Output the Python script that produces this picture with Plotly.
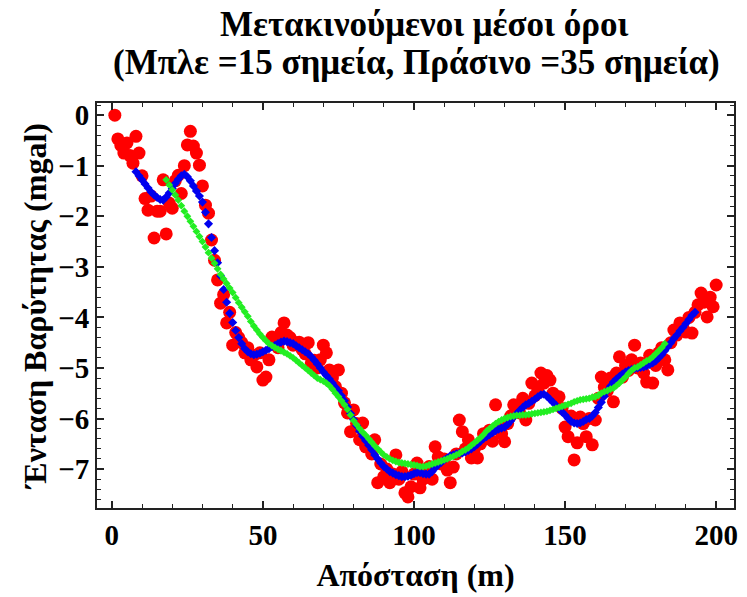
import plotly.graph_objects as go

# Raw gravity measurements (red points), x = 1..200 m
distance = list(range(1, 201))
gravity = [
    0.0, -0.47, -0.6, -0.75, -0.55, -0.8, -0.95, -0.42, -0.75, -1.2,
    -1.65, -1.88, -1.6, -2.43, -1.9, -1.9, -1.28, -2.35, -1.74, -1.84,
    -1.3, -1.19, -1.55, -1.0, -0.59, -0.32, -0.61, -0.75, -0.99, -1.4,
    -1.78, -1.94, -2.47, -2.87, -3.26, -3.72, -3.55, -4.11, -3.9, -4.55,
    -4.3, -4.4, -4.5, -4.7, -4.6, -4.84, -4.75, -4.98, -4.7, -5.24,
    -5.18, -4.84, -4.39, -4.45, -4.6, -4.3, -4.11, -4.35, -4.4, -4.55,
    -4.5, -4.49, -4.64, -4.72, -4.5, -4.9, -4.85, -5.0, -4.84, -4.55,
    -4.7, -5.04, -5.2, -5.37, -5.04, -5.5, -5.69, -5.89, -6.26, -5.83,
    -6.1, -6.42, -6.09, -6.56, -6.5, -6.7, -6.42, -7.27, -6.9, -7.15,
    -7.0, -7.27, -7.1, -6.72, -7.2, -7.05, -7.47, -7.55, -7.35, -7.1,
    -6.88, -7.37, -7.2, -7.05, -6.95, -7.2, -6.56, -6.76, -6.9, -6.8,
    -7.02, -7.27, -6.96, -6.7, -6.03, -6.26, -6.6, -6.42, -6.78, -6.6,
    -6.78, -6.5, -6.3, -6.4, -6.23, -6.45, -5.73, -6.17, -6.3, -6.46,
    -6.1, -5.95, -5.73, -5.8, -5.89, -5.6, -6.03, -5.7, -5.3, -5.55,
    -5.43, -5.1, -5.3, -5.15, -5.24, -5.5, -5.63, -5.57, -5.8, -6.17,
    -6.36, -5.95, -6.82, -6.48, -5.97, -6.1, -6.36, -6.0, -6.52, -6.03,
    -5.6, -5.18, -5.38, -5.45, -5.2, -5.67, -5.1, -4.78, -5.18, -4.95,
    -5.05, -4.84, -4.55, -5.0, -4.9, -5.1, -5.28, -4.75, -5.3, -4.95,
    -4.7, -4.6, -4.84, -5.04, -4.5, -4.25, -4.35, -4.11, -4.2, -4.29,
    -4.0, -4.31, -3.9, -3.75, -3.52, -3.7, -3.99, -3.6, -3.79, -3.36,
]

# 15-point moving average (blue), x = 8..193
blue_x = list(range(8, 194))
blue_y = [
    -1.12, -1.2, -1.28, -1.36, -1.44, -1.52, -1.58, -1.63, -1.67, -1.68,
    -1.62, -1.54, -1.45, -1.35, -1.27, -1.2, -1.17, -1.22, -1.3, -1.4,
    -1.5, -1.6, -1.72, -1.92, -2.15, -2.42, -2.68, -2.92, -3.18, -3.45,
    -3.7, -3.92, -4.1, -4.26, -4.4, -4.52, -4.62, -4.68, -4.72, -4.74,
    -4.73, -4.71, -4.68, -4.65, -4.62, -4.58, -4.55, -4.52, -4.49, -4.47,
    -4.48, -4.5, -4.52, -4.56, -4.6, -4.64, -4.68, -4.72, -4.78, -4.85,
    -4.92, -5.0, -5.08, -5.15, -5.22, -5.3, -5.38, -5.45, -5.55, -5.65,
    -5.77, -5.9, -6.02, -6.14, -6.25, -6.35, -6.44, -6.53, -6.62, -6.72,
    -6.8, -6.88, -6.95, -7.0, -7.05, -7.08, -7.11, -7.13, -7.15, -7.15,
    -7.14, -7.12, -7.09, -7.07, -7.07, -7.09, -7.1, -7.1, -7.05, -6.98,
    -6.92, -6.87, -6.82, -6.78, -6.74, -6.72, -6.7, -6.69, -6.68, -6.66,
    -6.63, -6.6, -6.56, -6.51, -6.45, -6.4, -6.36, -6.32, -6.28, -6.24,
    -6.21, -6.19, -6.17, -6.12, -6.05, -5.97, -5.9, -5.84, -5.78, -5.73,
    -5.7, -5.66, -5.62, -5.57, -5.53, -5.52, -5.56, -5.62, -5.68, -5.74,
    -5.8, -5.87, -5.93, -6.0, -6.06, -6.09, -6.1, -6.09, -6.06, -6.02,
    -6.0, -5.95, -5.88, -5.78, -5.68, -5.56, -5.45, -5.36, -5.28, -5.22,
    -5.17, -5.12, -5.08, -5.05, -5.03, -5.01, -5.0, -4.99, -4.98, -4.96,
    -4.93, -4.9, -4.86, -4.8, -4.74, -4.66, -4.58, -4.5, -4.42, -4.35,
    -4.27, -4.2, -4.12, -4.04, -3.96, -3.9,
]

# 35-point moving average (green), x = 18..183
green_x = list(range(18, 184))
green_y = [
    -1.28, -1.38, -1.48, -1.58, -1.68, -1.79, -1.9, -2.0, -2.1, -2.2,
    -2.3, -2.4, -2.5, -2.61, -2.72, -2.83, -2.93, -3.04, -3.15, -3.24,
    -3.33, -3.42, -3.51, -3.61, -3.71, -3.8, -3.89, -3.98, -4.08, -4.17,
    -4.25, -4.33, -4.4, -4.46, -4.52, -4.56, -4.6, -4.63, -4.66, -4.69,
    -4.72, -4.76, -4.8, -4.85, -4.9, -4.95, -5.0, -5.05, -5.1, -5.15,
    -5.2, -5.23, -5.26, -5.3, -5.35, -5.42, -5.5, -5.57, -5.65, -5.73,
    -5.82, -5.93, -6.04, -6.12, -6.2, -6.27, -6.33, -6.4, -6.47, -6.54,
    -6.6, -6.66, -6.72, -6.76, -6.8, -6.83, -6.85, -6.87, -6.88, -6.89,
    -6.9, -6.91, -6.92, -6.93, -6.95, -6.95, -6.94, -6.92, -6.9, -6.88,
    -6.86, -6.84, -6.82, -6.8, -6.77, -6.75, -6.72, -6.69, -6.65, -6.62,
    -6.58, -6.53, -6.48, -6.43, -6.38, -6.32, -6.25, -6.2, -6.15, -6.1,
    -6.06, -6.03, -6.0, -5.98, -5.96, -5.95, -5.94, -5.94, -5.93, -5.93,
    -5.92, -5.91, -5.9, -5.89, -5.88, -5.87, -5.86, -5.84, -5.82, -5.8,
    -5.78, -5.76, -5.74, -5.72, -5.7, -5.67, -5.65, -5.63, -5.62, -5.61,
    -5.6, -5.58, -5.57, -5.54, -5.5, -5.47, -5.45, -5.42, -5.4, -5.35,
    -5.3, -5.24, -5.18, -5.11, -5.05, -5.0, -4.98, -4.94, -4.9, -4.86,
    -4.83, -4.78, -4.72, -4.66, -4.6, -4.52,
]

x_ticks = [0, 50, 100, 150, 200]
y_ticks = [0, -1, -2, -3, -4, -5, -6, -7]

title_line1 = "Μετακινούμενοι μέσοι όροι"
title_line2 = "(Μπλε =15 σημεία, Πράσινο =35 σημεία)"
x_title = "Απόσταση (m)"
y_title = "Ένταση Βαρύτητας (mgal)"

FONT = "Liberation Serif, Times New Roman, serif"

fig = go.Figure()
fig.add_trace(go.Scatter(
    x=distance, y=gravity, mode="markers",
    marker=dict(color="#FF0000", size=13, line=dict(width=0)),
    showlegend=False,
))
fig.add_trace(go.Scatter(
    x=blue_x, y=blue_y, mode="markers",
    marker=dict(color="#0000EE", size=7, symbol="diamond", line=dict(width=0)),
    showlegend=False,
))
fig.add_trace(go.Scatter(
    x=green_x, y=green_y, mode="markers",
    marker=dict(color="#22EE22", size=6, symbol="diamond", line=dict(width=0)),
    showlegend=False,
))

axis_common = dict(
    showline=True, linecolor="#222222", linewidth=2, mirror="allticks",
    ticks="inside", tickcolor="#222222", tickwidth=1.5,
    showgrid=False, zeroline=False,
    tickfont=dict(family=FONT, size=29, color="black", weight="bold"),
)

fig.update_xaxes(
    range=[-4.9, 205.9], tickvals=x_ticks, ticklen=7,
    minor=dict(dtick=10, ticklen=4, ticks="inside", tickcolor="#222222", tickwidth=1),
    title=dict(text=x_title, font=dict(family=FONT, size=32, color="black", weight="bold"), standoff=14),
    **axis_common,
)
fig.update_yaxes(
    range=[-7.77, 0.24], tickvals=y_ticks, ticklen=7,
    minor=dict(dtick=0.2, ticklen=4, ticks="inside", tickcolor="#222222", tickwidth=1),
    title=dict(text=y_title, font=dict(family=FONT, size=32, color="black", weight="bold"), standoff=2),
    **axis_common,
)

title_font = dict(family=FONT, size=35, color="black", weight="bold")
fig.add_annotation(text=title_line1, xref="paper", yref="paper", x=0.513, y=1.1926,
                   xanchor="center", yanchor="middle", showarrow=False, font=title_font)
fig.add_annotation(text=title_line2, xref="paper", yref="paper", x=0.502, y=1.101,
                   xanchor="center", yanchor="middle", showarrow=False, font=title_font)

fig.update_layout(
    width=747, height=597,
    margin=dict(l=97, r=9, t=103, b=89),
    paper_bgcolor="white", plot_bgcolor="white",
)

fig.write_html("out.html")
